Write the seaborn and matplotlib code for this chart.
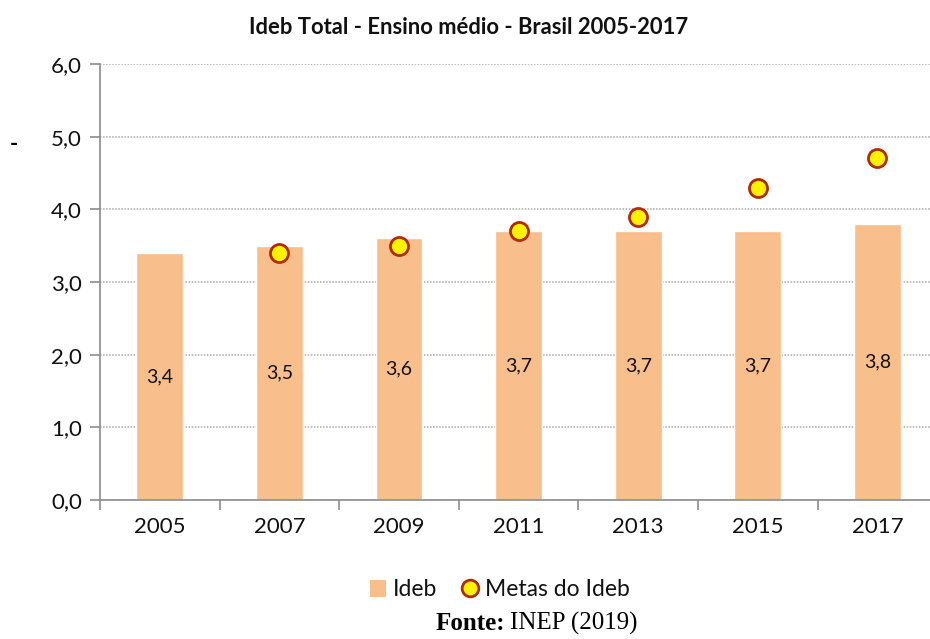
import numpy as np
import pandas as pd
import matplotlib
matplotlib.use("Agg")
import matplotlib.pyplot as plt
import seaborn as sns
from matplotlib.patches import Patch
from matplotlib.lines import Line2D
from matplotlib.ticker import FixedLocator

# ---------------------------------------------
# data
# ---------------------------------------------
anos = ["2005", "2007", "2009", "2011", "2013", "2015", "2017"]
ideb = [3.4, 3.5, 3.6, 3.7, 3.7, 3.7, 3.8]
anos_metas = ["2007", "2009", "2011", "2013", "2015", "2017"]
metas = [3.4, 3.5, 3.7, 3.9, 4.3, 4.7]
yticks = [0, 1, 2, 3, 4, 5, 6]

sns.set_theme(style="white")
plt.rcParams["font.family"] = ["Lato", "DejaVu Sans"]

bar_col = "#F8BE8C"
txt_col = "#111111"

fig = plt.figure(figsize=(9.3, 6.39), dpi=100)
ax = fig.add_axes([100 / 930, 1 - 500 / 639, 830 / 930, 436 / 639])

df = pd.DataFrame({"ano": anos, "ideb": ideb})
sns.barplot(data=df, x="ano", y="ideb", order=anos, color=bar_col,
            saturation=1, width=0.39, ax=ax, zorder=2)

dm = pd.DataFrame({"ano": anos_metas, "meta": metas})
sns.pointplot(data=dm, x="ano", y="meta", order=anos, linestyle="none",
              markers="o", color="#B22A0A", markerfacecolor="#FFF200",
              markeredgecolor="#B22A0A", markersize=13, markeredgewidth=2,
              errorbar=None, ax=ax, zorder=4)

# value labels in the middle of bars
for c in ax.containers:
    ax.bar_label(c, labels=[f"{v:.1f}".replace(".", ",") for v in ideb],
                 label_type="center", fontsize=14, color=txt_col)

ax.set_xlim(-0.5, 6.44)
ax.set_ylim(0, 6)
ax.yaxis.set_major_locator(FixedLocator(yticks))
ax.set_yticklabels([f"{v:.1f}".replace(".", ",") for v in yticks])
ax.set_xlabel("")
ax.set_ylabel("")

# dotted grid behind bars
ax.set_axisbelow(True)
ax.yaxis.grid(True, linestyle=(0, (1, 1)), color="#a8a8a8", linewidth=1.1)
ax.xaxis.grid(False)

for s in ["top", "right"]:
    ax.spines[s].set_visible(False)
for s in ["left", "bottom"]:
    ax.spines[s].set_color("#8c8c8c")
    ax.spines[s].set_linewidth(1.2)

# category boundary ticks on x, outward ticks on y
ax.tick_params(axis="x", which="major", length=0, pad=12, labelsize=16,
               labelcolor=txt_col)
ax.xaxis.set_minor_locator(FixedLocator(np.arange(-0.5, 6.5, 1.0)))
ax.tick_params(axis="x", which="minor", length=7, width=1.2, color="#8c8c8c",
               bottom=True, direction="out")
ax.tick_params(axis="y", length=7, width=1.2, color="#8c8c8c", left=True,
               pad=6, labelsize=16, labelcolor=txt_col)

fig.text(469 / 930, 1 - 28 / 639, "Ideb Total - Ensino médio - Brasil 2005-2017",
         ha="center", va="center", fontsize=15.8, fontweight="bold", color=txt_col)

handles = [Patch(facecolor=bar_col, edgecolor="none", label="Ideb"),
           Line2D([], [], linestyle="none", marker="o", markersize=12,
                  markerfacecolor="#FFF200", markeredgecolor="#B22A0A",
                  markeredgewidth=2, label="Metas do Ideb")]
fig.legend(handles=handles, loc="center", bbox_to_anchor=(500 / 930, 1 - 590 / 639),
           ncol=2, frameon=False, fontsize=16.5, handlelength=0.7,
           handletextpad=0.3, columnspacing=1.1, labelcolor=txt_col)

fig.text(505 / 930, 1 - 623 / 639, "Fonte:", ha="right", va="center",
         fontsize=18, family="Liberation Serif", fontweight="bold", color="black")
fig.text(510 / 930, 1 - 623 / 639, "INEP (2019)", ha="left", va="center",
         fontsize=18, family="Liberation Serif", color="black")
fig.text(14 / 930, 1 - 145 / 639, "-", ha="center", va="center", fontsize=16,
         fontweight="bold", color="black")

fig.savefig("out.png", dpi=100)
